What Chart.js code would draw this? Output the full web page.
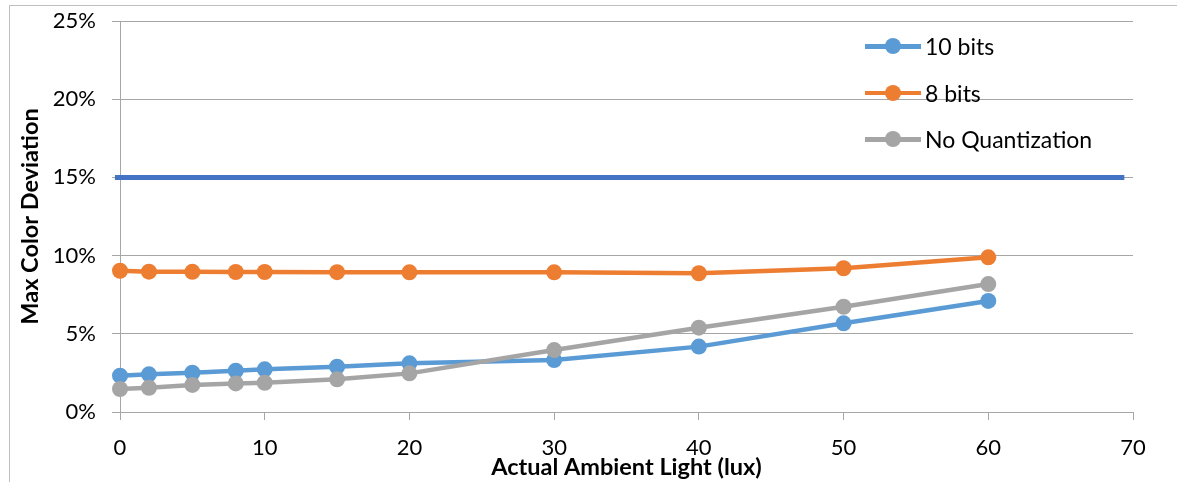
<!DOCTYPE html>
<html lang="en">
<head>
  <meta charset="UTF-8">
  <title>Max Color Deviation vs Ambient Light</title>
  <script src="https://cdn.jsdelivr.net/npm/chart.js"></script>
  <style>
    body {
      margin: 0;
      background: #fff;
      font-family: Lato, "Liberation Sans", sans-serif;
    }
    #wrap {
      position: relative;
      width: 1177px;
      height: 482px;
      overflow: hidden;
    }
    #frame {
      position: absolute;
      left: 9px;
      top: 5px;
      width: 1200px;
      height: 500px;
      border-left: 1px solid #bfbfbf;
      border-top: 1px solid #bfbfbf;
    }
    #chart {
      position: absolute;
      left: 0;
      top: 0;
    }
    #legend {
      position: absolute;
      left: 865px;
      top: 23px;
    }
    .row {
      display: flex;
      align-items: center;
      height: 46.5px;
      font-size: 23px;
      color: #000;
    }
    .sym {
      position: relative;
      width: 56px;
      height: 4.5px;
      margin-right: 4px;
    }
    .sym span {
      position: absolute;
      left: 20px;
      top: -5.75px;
      width: 16px;
      height: 16px;
      border-radius: 50%;
    }
  </style>
</head>
<body>
  <div id="wrap">
    <div id="frame"></div>
    <canvas id="chart" width="1177" height="482"></canvas>
    <div id="legend"></div>
  </div>

  <script>
    // dati (percentuali)
    const luxValues = [0, 2, 5, 8, 10, 15, 20, 30, 40, 50, 60];
    const bits10 = [2.32, 2.41, 2.51, 2.64, 2.73, 2.90, 3.11, 3.32, 4.18, 5.67, 7.10];
    const bits8 = [9.03, 8.97, 8.96, 8.95, 8.95, 8.94, 8.93, 8.93, 8.87, 9.19, 9.89];
    const noQuant = [1.47, 1.55, 1.73, 1.83, 1.87, 2.09, 2.47, 3.96, 5.39, 6.73, 8.18];
    const seriesNames = ['10 bits', '8 bits', 'No Quantization'];
    const seriesColors = ['#5B9BD5', '#ED7D31', '#A5A5A5'];
    const thresholdValue = 15;
    const thresholdRange = [-0.35, 69.4];
    const xTicks = [0, 10, 20, 30, 40, 50, 60, 70];
    const yTicks = [0, 5, 10, 15, 20, 25];

    const seriesData = [bits10, bits8, noQuant];

    function toPoints(values) {
      return luxValues.map((x, i) => ({ x: x, y: values[i] }));
    }

    const datasets = seriesData.map((values, i) => ({
      label: seriesNames[i],
      data: toPoints(values),
      borderColor: seriesColors[i],
      backgroundColor: seriesColors[i],
      borderWidth: 4.5,
      pointRadius: 8,
      pointBorderWidth: 0,
      pointHoverRadius: 8,
      order: 3 - i,
      clip: false
    }));

    datasets.push({
      label: 'threshold',
      data: thresholdRange.map(x => ({ x: x, y: thresholdValue })),
      borderColor: '#4472C4',
      borderWidth: 5,
      pointRadius: 0,
      order: 0,
      clip: false
    });

    const tickFont = { family: 'Lato, "Liberation Sans", sans-serif', size: 22 };
    const titleFont = { family: 'Lato, "Liberation Sans", sans-serif', size: 23.5, weight: 'bold' };

    const ctx = document.getElementById('chart').getContext('2d');
    const grafico = new Chart(ctx, {
      type: 'line',
      data: { datasets: datasets },
      options: {
        responsive: false,
        animation: false,
        layout: { padding: { left: 8, top: 21, right: 44, bottom: 0 } },
        plugins: {
          legend: { display: false },
          tooltip: { enabled: false }
        },
        scales: {
          x: {
            type: 'linear',
            min: 0,
            max: 70,
            afterBuildTicks: s => { s.ticks = xTicks.map(v => ({ value: v })); },
            afterFit: s => { s.height = 70; s.paddingLeft = 0; s.paddingRight = 0; },
            ticks: { font: tickFont, color: '#000', padding: 15 },
            grid: { drawOnChartArea: false, drawTicks: true, tickLength: 8, color: '#a6a6a6' },
            border: { color: '#a6a6a6' },
            title: {
              display: true,
              text: 'Actual Ambient Light (lux)',
              font: titleFont,
              color: '#000',
              padding: { top: 0, bottom: 0 }
            }
          },
          y: {
            min: 0,
            max: 25,
            afterBuildTicks: s => { s.ticks = yTicks.map(v => ({ value: v })); },
            afterFit: s => { s.width = 112; s.paddingTop = 0; s.paddingBottom = 0; },
            ticks: { font: tickFont, color: '#000', padding: 16, callback: v => v + '%' },
            grid: { color: '#a6a6a6', tickLength: 8 },
            border: { color: '#a6a6a6' },
            title: {
              display: true,
              text: 'Max Color Deviation',
              font: titleFont,
              color: '#000',
              padding: { top: 8, bottom: 0 }
            }
          }
        }
      }
    });

    // legenda con linea e marker
    const legend = document.getElementById('legend');
    seriesNames.forEach((name, i) => {
      const row = document.createElement('div');
      row.className = 'row';
      const sym = document.createElement('div');
      sym.className = 'sym';
      sym.style.background = seriesColors[i];
      const dot = document.createElement('span');
      dot.style.background = seriesColors[i];
      sym.appendChild(dot);
      const txt = document.createElement('div');
      txt.textContent = name;
      row.appendChild(sym);
      row.appendChild(txt);
      legend.appendChild(row);
    });
  </script>
</body>
</html>
